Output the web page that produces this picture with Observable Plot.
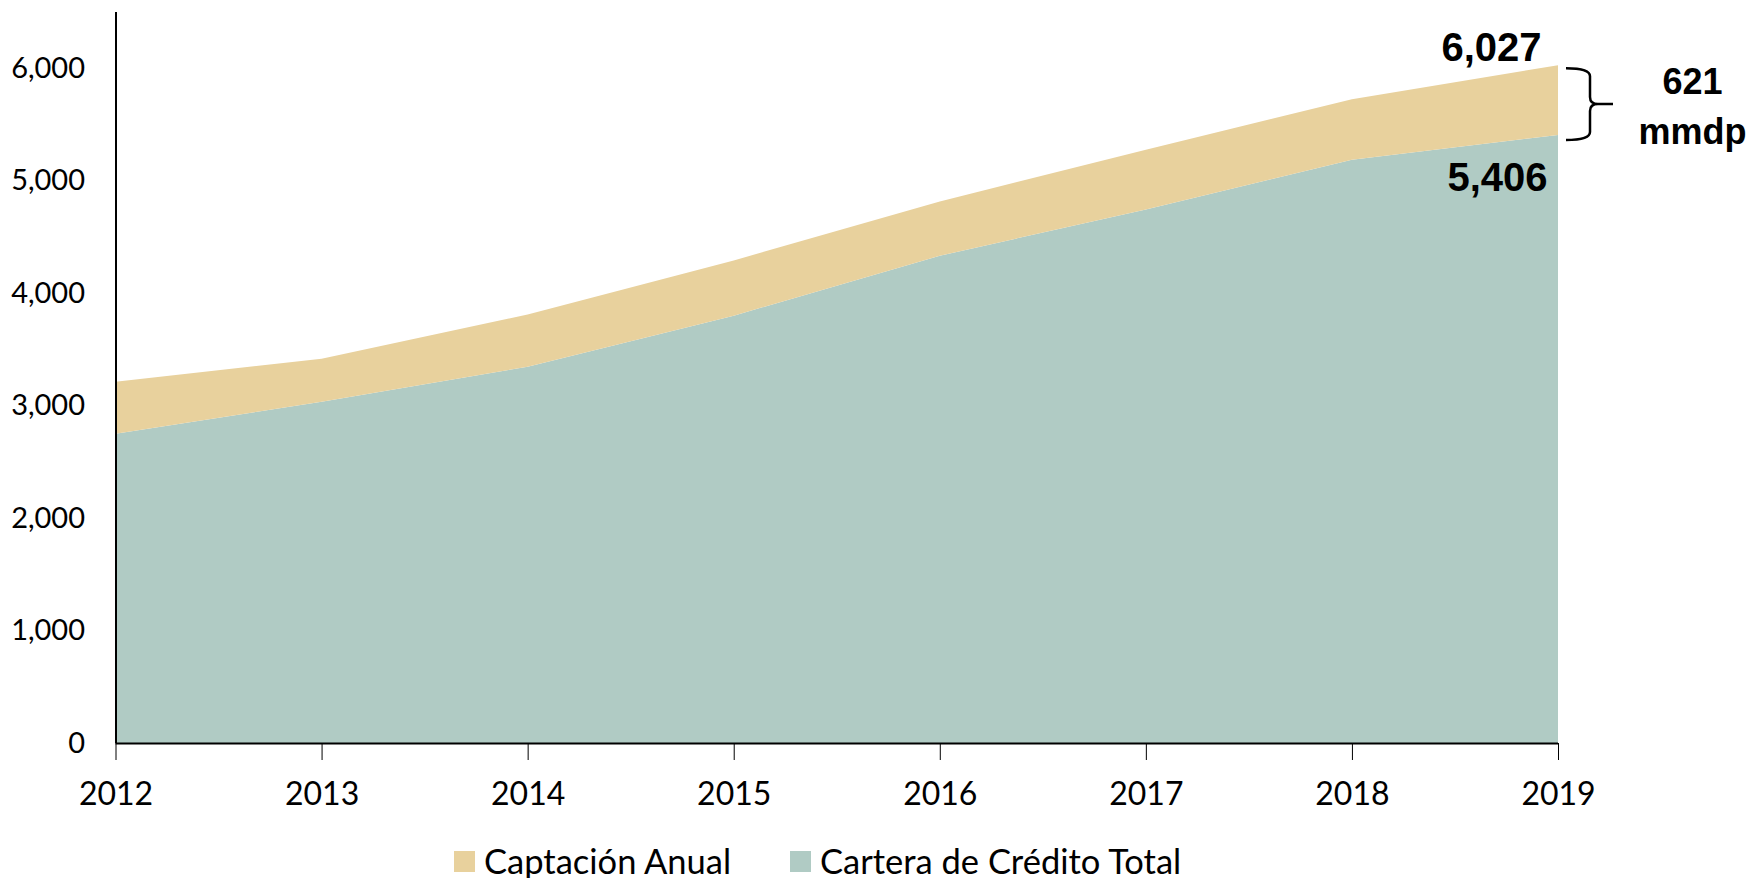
<!DOCTYPE html>
<html>
<head>
<meta charset="utf-8">
<script src="https://cdn.jsdelivr.net/npm/d3@7"></script>
<script src="https://cdn.jsdelivr.net/npm/@observablehq/plot@0.6"></script>
<style>
  html, body { margin: 0; padding: 0; background: #fff; overflow: hidden; }
  #chart svg { display: block; font-family: Lato, sans-serif; }
  #chart [aria-label^="x-axis"] text { font-size: 32px; }
  #chart [aria-label^="y-axis"] text { font-size: 29px; }
  #legend { position: relative; height: 38px; font-family: Lato, sans-serif; font-size: 34.5px; color: #000; overflow: visible; }
  .item { position: absolute; top: 5px; height: 32px; line-height: 32px; display: flex; align-items: center; white-space: nowrap; overflow: visible; }
  .sw { width: 21px; height: 21px; margin-right: 9px; }
</style>
</head>
<body>
<div id="chart"></div>
<div id="legend"></div>
<script>
const years = [2012, 2013, 2014, 2015, 2016, 2017, 2018, 2019];
const cartera = [2750, 3035, 3346, 3800, 4333, 4744, 5186, 5406];
const captacion = [462, 382, 465, 491, 482, 531, 539, 621];
const seriesNames = ["Captación Anual", "Cartera de Crédito Total"];
const seriesColors = ["#E8D19D", "#B0CBC4"];
const yTicks = [0, 1000, 2000, 3000, 4000, 5000, 6000];

const data = [];
years.forEach((yr, i) => {
  data.push({year: yr, series: seriesNames[1], value: cartera[i]});
  data.push({year: yr, series: seriesNames[0], value: captacion[i]});
});

const last = years.length - 1;
const lastYear = years[last];
const lastCartera = cartera[last];
const lastTotal = cartera[last] + captacion[last];
const fmt = d3.format(",");

const bracket = (index, scales) => {
  const x0 = scales.x(lastYear) + 8;
  const xv = x0 + 24;
  const xp = x0 + 47;
  const yt = scales.y(lastTotal) + 3;
  const yb = scales.y(lastCartera) + 5;
  const ym = (yt + yb) / 2;
  const d = `M${x0},${yt} Q${xv},${yt} ${xv},${yt + 8} L${xv},${ym - 7} Q${xv},${ym} ${xv + 8},${ym} L${xp},${ym} ` +
            `M${xv + 8},${ym} Q${xv},${ym} ${xv},${ym + 7} L${xv},${yb - 8} Q${xv},${yb} ${x0},${yb}`;
  return d3.create("svg:path").attr("d", d).attr("fill", "none").attr("stroke", "#000").attr("stroke-width", 2.5).node();
};

const plot = Plot.plot({
  width: 1758,
  height: 840,
  marginLeft: 115.5,
  marginRight: 200,
  marginTop: 12,
  marginBottom: 97,
  style: {color: "#000", fontFamily: "Lato, sans-serif", background: "#fff", overflow: "visible"},
  x: {domain: [2012, 2019], ticks: years, tickFormat: d => String(d), tickSize: 17, tickPadding: 22, label: null},
  y: {domain: [0, 6500], ticks: yTicks, tickFormat: d => fmt(d), tickSize: 0, tickPadding: 31, label: null},
  color: {domain: seriesNames, range: seriesColors},
  marks: [
    Plot.areaY(data, {x: "year", y: "value", fill: "series", order: [seriesNames[1], seriesNames[0]]}),
    Plot.ruleY([0], {stroke: "#000", strokeWidth: 2}),
    Plot.ruleX([years[0]], {y1: 0, y2: 6500, stroke: "#000", strokeWidth: 2}),
    Plot.text([lastTotal], {x: () => lastYear, y: d => d, text: d => fmt(d), textAnchor: "end", lineAnchor: "bottom", dx: -17, dy: -5, fontSize: 40, fontWeight: "bold", fontFamily: "Liberation Sans, Arial, sans-serif", fill: "#000"}),
    Plot.text([lastCartera], {x: () => lastYear, y: d => d, text: d => fmt(d), textAnchor: "end", lineAnchor: "top", dx: -11, dy: 27, fontSize: 40, fontWeight: "bold", fontFamily: "Liberation Sans, Arial, sans-serif", fill: "#000"}),
    bracket,
    Plot.text([captacion[last]], {x: () => lastYear, y: () => lastTotal, text: d => String(d), textAnchor: "middle", lineAnchor: "bottom", dx: 134, dy: 28, fontSize: 36, fontWeight: "bold", fontFamily: "Liberation Sans, Arial, sans-serif", fill: "#000"}),
    Plot.text(["mmdp"], {x: () => lastYear, y: () => lastCartera, text: d => d, textAnchor: "middle", lineAnchor: "bottom", dx: 134, dy: 8, fontSize: 36, fontWeight: "bold", fontFamily: "Liberation Sans, Arial, sans-serif", fill: "#000"})
  ]
});
document.getElementById("chart").appendChild(plot);

const legend = document.getElementById("legend");
const lefts = [454, 790];
seriesNames.forEach((name, i) => {
  const item = document.createElement("div");
  item.className = "item";
  item.style.left = lefts[i] + "px";
  const sw = document.createElement("span");
  sw.className = "sw";
  sw.style.background = seriesColors[i];
  const label = document.createElement("span");
  label.textContent = name;
  item.appendChild(sw);
  item.appendChild(label);
  legend.appendChild(item);
});
</script>
</body>
</html>
